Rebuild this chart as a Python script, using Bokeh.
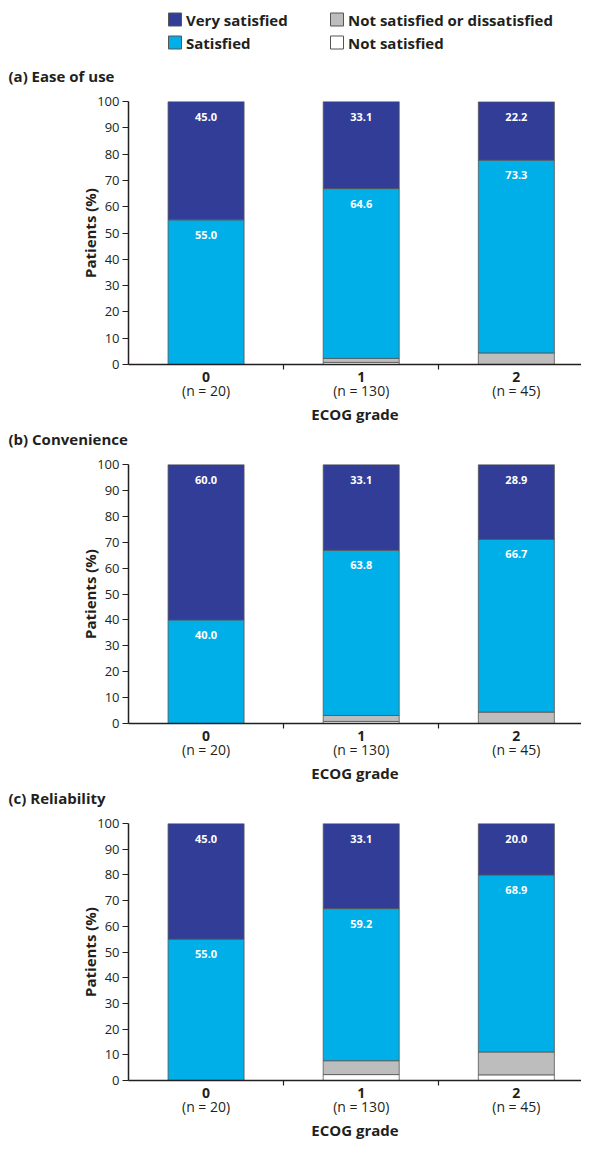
from bokeh.plotting import figure
from bokeh.models import Range1d, FixedTicker, LinearAxis, ColumnDataSource, Title
from bokeh.layouts import column
from bokeh.embed import file_html
from bokeh.resources import INLINE
from bokeh.core.properties import value
import numpy as np

# ---------------- data ----------------
grades = ["0", "1", "2"]
n_labels = ["(n = 20)", "(n = 130)", "(n = 45)"]
series = ["not_sat", "neither", "sat", "very"]
series_names = ["Not satisfied", "Not satisfied or dissatisfied", "Satisfied", "Very satisfied"]
panel_titles = ["(a) Ease of use", "(b) Convenience", "(c) Reliability"]
y_ticks = [0, 10, 20, 30, 40, 50, 60, 70, 80, 90, 100]

ease_not_sat = [0.0, 0.8, 0.0]
ease_neither = [0.0, 1.5, 4.4]
ease_sat = [55.0, 64.6, 73.3]
ease_very = [45.0, 33.1, 22.2]

conv_not_sat = [0.0, 0.8, 0.0]
conv_neither = [0.0, 2.3, 4.4]
conv_sat = [40.0, 63.8, 66.7]
conv_very = [60.0, 33.1, 28.9]

rel_not_sat = [0.0, 2.3, 2.2]
rel_neither = [0.0, 5.4, 8.9]
rel_sat = [55.0, 59.2, 68.9]
rel_very = [45.0, 33.1, 20.0]

panels = [
    (ease_not_sat, ease_neither, ease_sat, ease_very),
    (conv_not_sat, conv_neither, conv_sat, conv_very),
    (rel_not_sat, rel_neither, rel_sat, rel_very),
]

# ---------------- style ----------------
FONT = "Open Sans"
TXT = "#231f20"
colors = ["#ffffff", "#bdbdbd", "#00aee8", "#313d96"]
OUTLINE = "#555555"
W = 581
LEFT = 128
FRAME_W = W - LEFT

# (frame height, bottom border)
geom = [(263, 62), (259, 62), (257, 62)]


def style_axis_common(ax):
    ax.axis_line_color = TXT
    ax.axis_line_width = 1.5
    ax.major_label_text_font = FONT
    ax.major_label_text_color = TXT
    ax.axis_label_text_font = FONT
    ax.axis_label_text_font_style = "bold"
    ax.axis_label_text_font_size = "15px"
    ax.axis_label_text_color = TXT


def make_panel(title, vals, frame_h, bot_b):
    x = np.arange(len(grades))
    p = figure(frame_width=FRAME_W, frame_height=frame_h,
               x_range=Range1d(-0.5, 2.42), y_range=Range1d(0, 100),
               output_backend="svg", toolbar_location=None,
               min_border_left=LEFT, min_border_right=0,
               min_border_top=0, min_border_bottom=bot_b)
    p.outline_line_color = None
    p.grid.visible = False

    data = {"x": x}
    for s, v in zip(series, vals):
        data[s] = v
    src = ColumnDataSource(data)
    p.vbar_stack(series, x="x", width=0.49, source=src,
                 fill_color=colors, line_color=OUTLINE, line_width=0.8)

    # value labels at top of satisfied and very satisfied segments
    cum = np.cumsum(np.array(vals), axis=0)
    lx, ly, lt = [], [], []
    for si in (2, 3):
        for i in range(len(grades)):
            if vals[si][i] > 0:
                lx.append(x[i])
                ly.append(cum[si][i])
                lt.append(f"{vals[si][i]:.1f}")
    p.text(x=lx, y=ly, text=lt, text_align="center", text_baseline="middle",
           y_offset=15, text_color="white", text_font=value(FONT),
           text_font_style="bold", text_font_size="11px")

    # title: a blank spacer next to the frame, then the visible title
    p.add_layout(Title(text="\u00a0", text_color="white", text_font_size="2px",
                       standoff=12), "above")
    p.add_layout(Title(text=title, text_font=FONT, text_font_size="15px",
                       text_font_style="bold", text_color=TXT, align="left",
                       offset=-(LEFT - 8), standoff=0), "above")

    # y axis
    ya = p.yaxis[0]
    style_axis_common(ya)
    ya.ticker = FixedTicker(ticks=y_ticks)
    ya.axis_label = "Patients (%)"
    ya.axis_label_standoff = -6
    ya.major_label_text_font_size = "13px"
    ya.major_label_standoff = 3
    ya.major_tick_out = 6
    ya.major_tick_in = 0
    ya.minor_tick_line_color = None
    ya.major_tick_line_color = TXT
    ya.major_tick_line_width = 1.2

    # x axis: grade labels with boundary ticks
    xa = p.xaxis[0]
    style_axis_common(xa)
    xa.ticker = FixedTicker(ticks=list(x), minor_ticks=list(x[:-1] + 0.5))
    xa.major_label_overrides = {int(i): g for i, g in zip(x, grades)}
    xa.major_label_text_font_size = "14px"
    xa.major_label_text_font_style = "bold"
    xa.major_label_standoff = 2
    xa.major_tick_line_color = None
    xa.major_tick_out = 0
    xa.major_tick_in = 0
    xa.minor_tick_line_color = TXT
    xa.minor_tick_line_width = 1.2
    xa.minor_tick_out = 5
    xa.minor_tick_in = 0

    # second row: patient numbers + axis title
    xa2 = LinearAxis(ticker=FixedTicker(ticks=list(x)))
    style_axis_common(xa2)
    xa2.axis_line_color = None
    xa2.major_tick_line_color = None
    xa2.minor_tick_line_color = None
    xa2.major_tick_out = 0
    xa2.major_tick_in = 0
    xa2.major_label_overrides = {int(i): n for i, n in zip(x, n_labels)}
    xa2.major_label_text_font_size = "14px"
    xa2.major_label_standoff = -4
    xa2.axis_label = "ECOG grade"
    xa2.axis_label_standoff = 1
    p.add_layout(xa2, "below")
    return p


# legend figure (drawn in pixel units, same left border as the panels)
LH = 63
lg = figure(frame_width=FRAME_W, frame_height=LH,
            x_range=Range1d(LEFT, W), y_range=Range1d(LH, 0),
            output_backend="svg", toolbar_location=None,
            min_border_left=LEFT, min_border_right=0,
            min_border_top=0, min_border_bottom=0)
lg.axis.visible = False
lg.grid.visible = False
lg.outline_line_color = None
order = [3, 2, 1, 0]
col_x = [174.5, 336.5]
row_y = [19, 42]
sq_x, sq_y, sq_c, tx_x, tx_t = [], [], [], [], []
for j, k in enumerate(order):
    cx = col_x[j // 2]
    cy = row_y[j % 2]
    sq_x.append(cx)
    sq_y.append(cy)
    sq_c.append(colors[k])
    tx_x.append(cx + 11)
    tx_t.append(series_names[k])
lg.rect(x=sq_x, y=sq_y, width=13, height=13, fill_color=sq_c, line_color=OUTLINE, line_width=1)
lg.text(x=tx_x, y=sq_y, text=tx_t, text_align="left", text_baseline="middle",
        text_font=value(FONT), text_font_style="bold", text_font_size="15px", text_color=TXT)

figs = [lg]
for t, v, g in zip(panel_titles, panels, geom):
    figs.append(make_panel(t, v, *g))

layout = column(*figs, spacing=0)
open("out.html", "w").write(file_html(layout, INLINE))
